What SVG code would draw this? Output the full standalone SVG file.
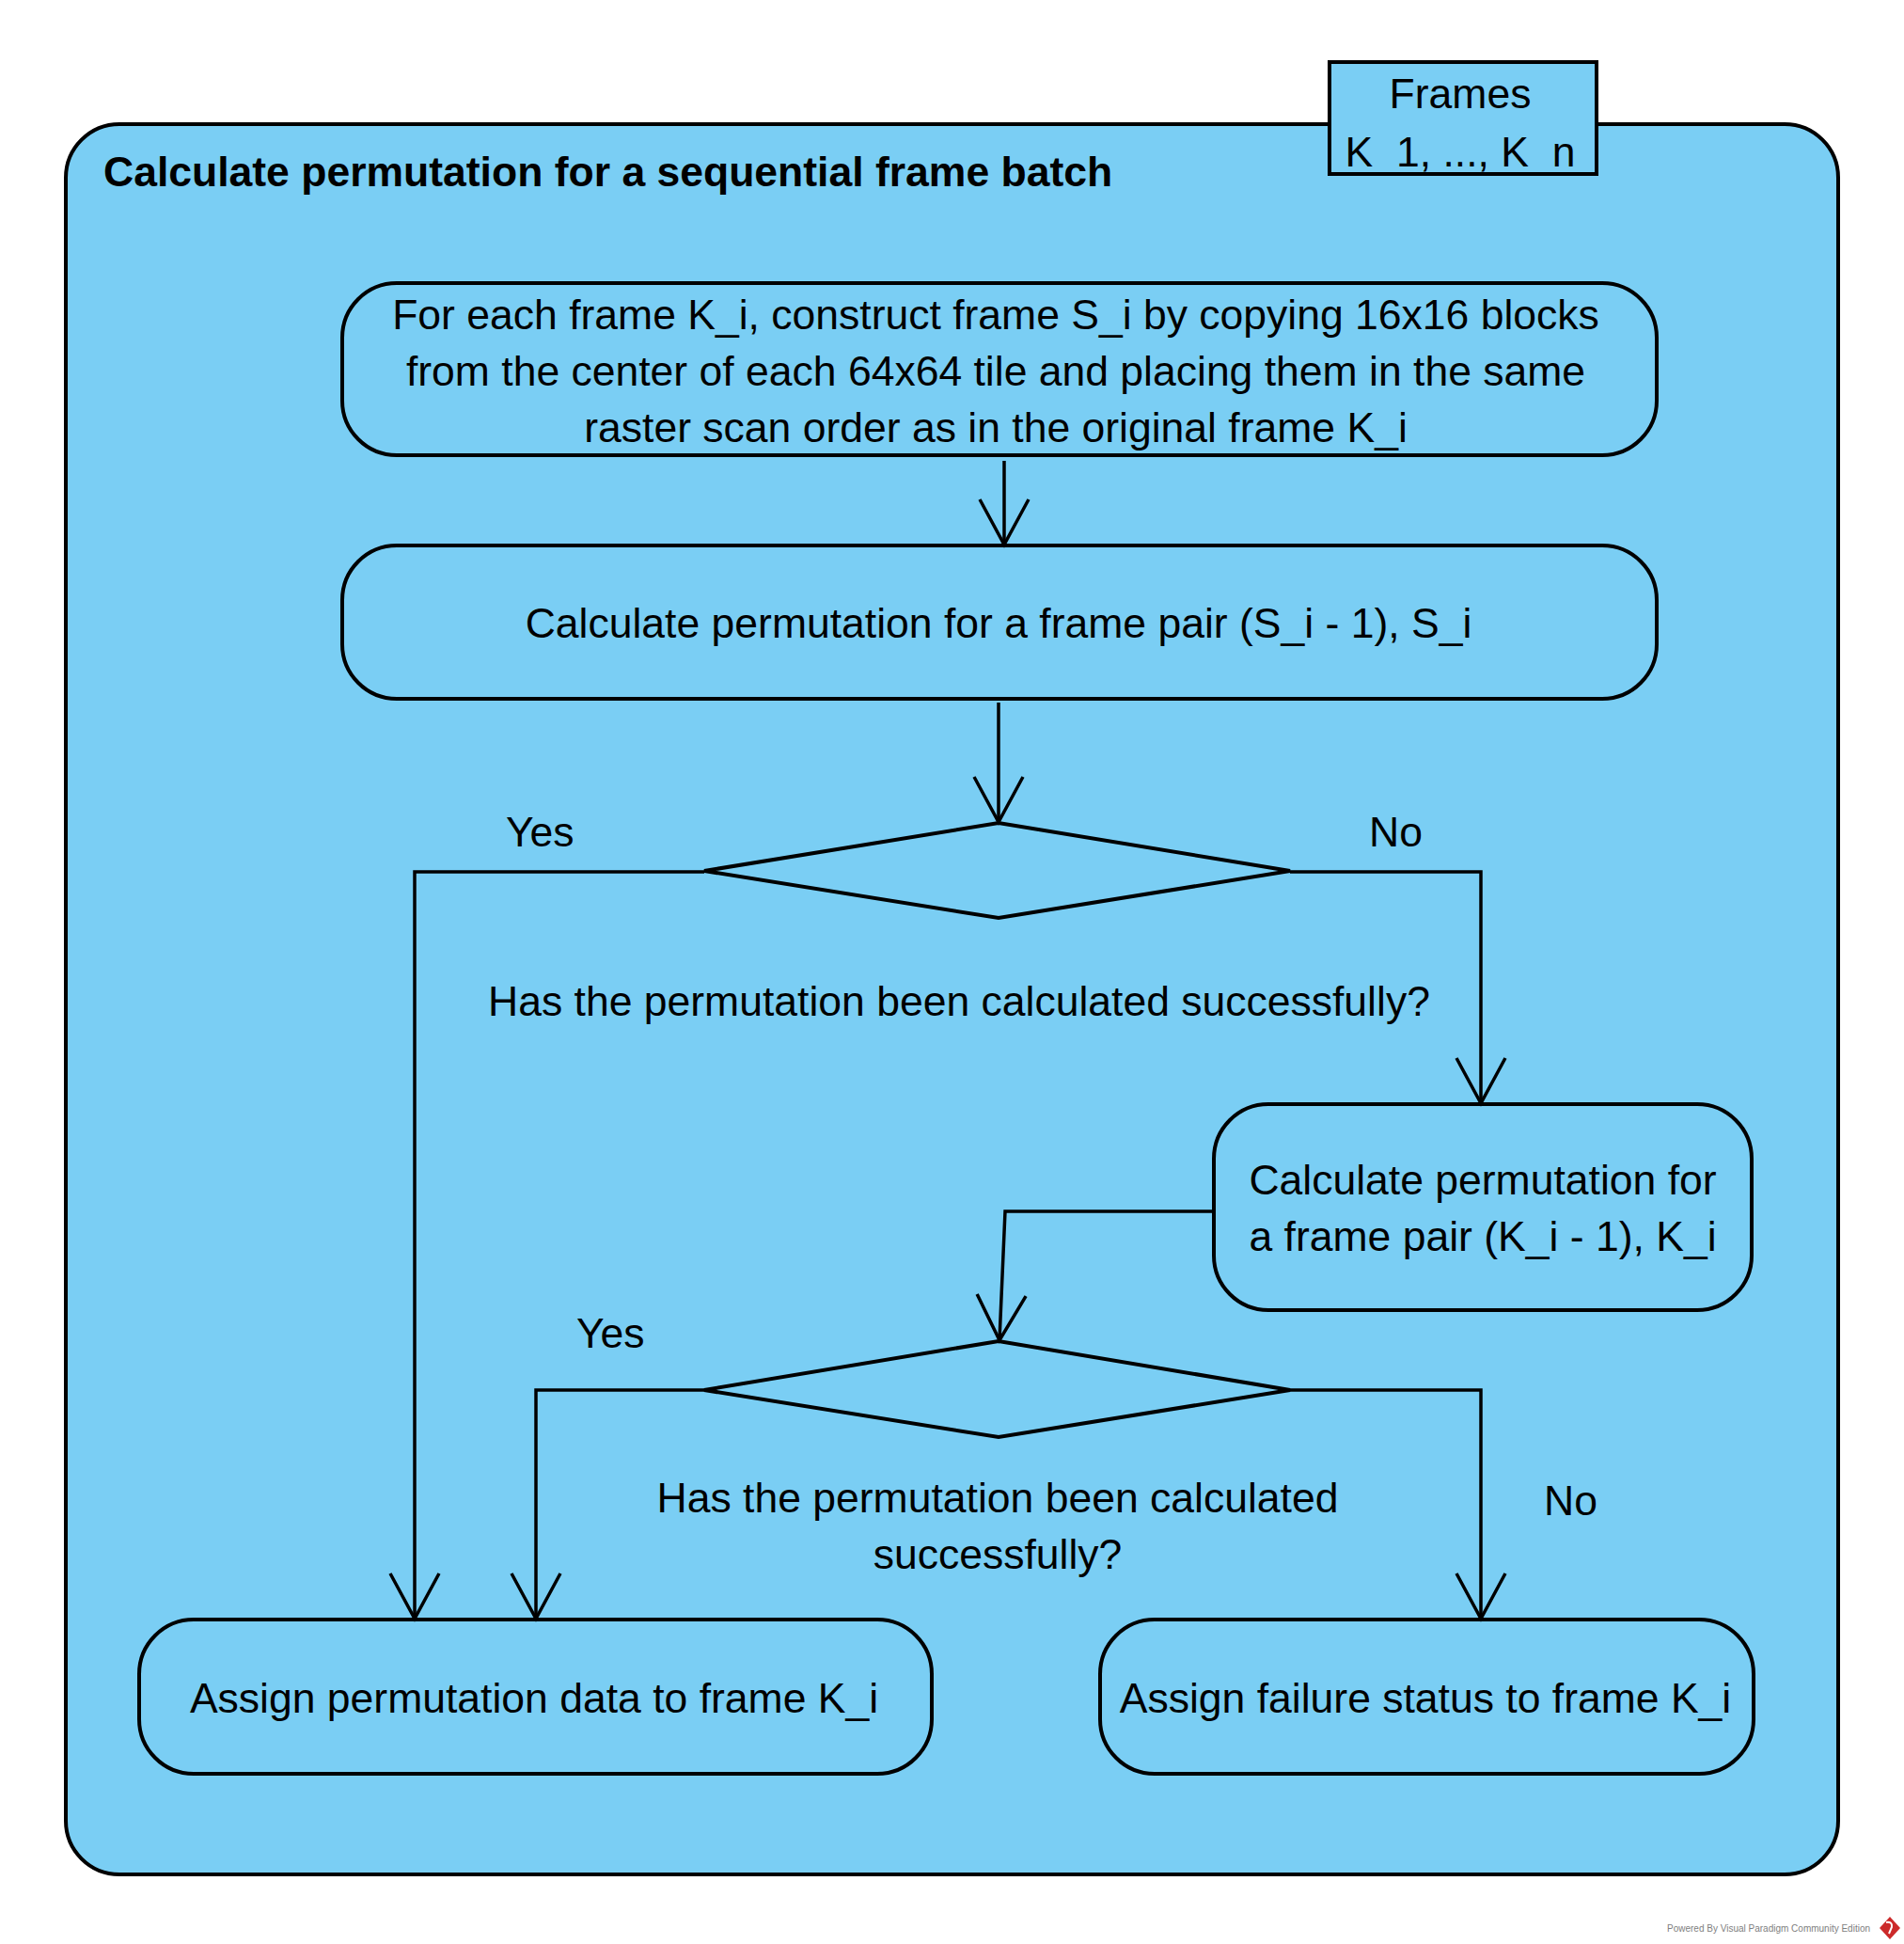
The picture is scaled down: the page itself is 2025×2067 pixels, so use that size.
<svg xmlns="http://www.w3.org/2000/svg" width="2025" height="2067" viewBox="0 0 2025 2067">
<style>
.fill{fill:#7ACEF4;stroke:#000;stroke-width:4}
.t{font-family:"Liberation Sans",Arial,sans-serif;font-size:44.5px;fill:#000}
.c{text-anchor:middle}
.conn{fill:none;stroke:#000;stroke-width:3.5}
</style>
<defs>
<marker id="arrow" markerUnits="userSpaceOnUse" markerWidth="70" markerHeight="70" viewBox="-60 -35 70 70" refX="0" refY="0" orient="auto">
<path d="M-48,-26 L0,0 L-48,26" fill="none" stroke="#000" stroke-width="3.5"/>
</marker>
</defs>
<rect width="2025" height="2067" fill="#fff"/>

<g id="frame">
<rect class="fill" x="70" y="132" width="1885" height="1861" rx="57" ry="57" stroke-width="4"/>
<text class="t" x="110" y="198" font-weight="bold">Calculate permutation for a sequential frame batch</text>
</g>

<g id="frames-pin">
<rect class="fill" x="1414" y="66" width="284" height="119"/>
<text class="t c" x="1553" y="115">Frames</text>
<text class="t c" x="1553" y="177">K_1, ..., K_n</text>
</g>

<g id="node-construct">
<rect class="fill" x="364" y="301" width="1398" height="183" rx="58" ry="58"/>
<text class="t c" x="1059" y="350">For each frame K_i, construct frame S_i by copying 16x16 blocks</text>
<text class="t c" x="1059" y="410">from the center of each 64x64 tile and placing them in the same</text>
<text class="t c" x="1059" y="470">raster scan order as in the original frame K_i</text>
</g>

<g id="node-perm-s">
<rect class="fill" x="364" y="580" width="1398" height="163" rx="58" ry="58"/>
<text class="t c" x="1062" y="678">Calculate permutation for a frame pair (S_i - 1), S_i</text>
</g>

<g id="decision-1">
<polygon class="fill" stroke-width="4.5" points="749,926 1062,875 1372,926 1062,976"/>
<text class="t c" x="1020" y="1080">Has the permutation been calculated successfully?</text>
</g>

<g id="node-perm-k">
<rect class="fill" x="1291" y="1174" width="572" height="219" rx="58" ry="58"/>
<text class="t c" x="1577" y="1270">Calculate permutation for</text>
<text class="t c" x="1577" y="1330">a frame pair (K_i - 1), K_i</text>
</g>

<g id="decision-2">
<polygon class="fill" stroke-width="4.5" points="749,1478 1062,1426 1372,1478 1062,1528"/>
<text class="t c" x="1061" y="1608">Has the permutation been calculated</text>
<text class="t c" x="1061" y="1668">successfully?</text>
</g>

<g id="node-assign-data">
<rect class="fill" x="148" y="1722" width="843" height="164" rx="58" ry="58"/>
<text class="t c" x="568" y="1821">Assign permutation data to frame K_i</text>
</g>

<g id="node-assign-failure">
<rect class="fill" x="1170" y="1722" width="695" height="164" rx="58" ry="58"/>
<text class="t c" x="1516" y="1821">Assign failure status to frame K_i</text>
</g>

<g id="connectors">
<path class="conn" d="M1068,490 L1068,579" marker-end="url(#arrow)"/>
<path class="conn" d="M1062,747 L1062,874" marker-end="url(#arrow)"/>
<path class="conn" d="M749,927 L441,927 L441,1721" marker-end="url(#arrow)"/>
<path class="conn" d="M1372,927 L1575,927 L1575,1173" marker-end="url(#arrow)"/>
<path class="conn" d="M1291,1288 L1069,1288 L1063,1425" marker-end="url(#arrow)"/>
<path class="conn" d="M749,1478 L570,1478 L570,1721" marker-end="url(#arrow)"/>
<path class="conn" d="M1372,1478 L1575,1478 L1575,1721" marker-end="url(#arrow)"/>
<text class="t" x="538" y="900">Yes</text>
<text class="t" x="1456" y="900">No</text>
<text class="t" x="613" y="1433">Yes</text>
<text class="t" x="1642" y="1611">No</text>
</g>

<g id="footer">
<text x="1773" y="2054" font-family="Liberation Sans, Arial, sans-serif" font-size="10" fill="#808080">Powered By Visual Paradigm Community Edition</text>
<polygon points="2010,2038 2021,2050 2010,2062 1999,2050" fill="#CC2A2A"/>
<path d="M2006,2044 Q2013,2043 2012,2049 L2009,2056" fill="none" stroke="#fff" stroke-width="2"/>
</g>
</svg>
